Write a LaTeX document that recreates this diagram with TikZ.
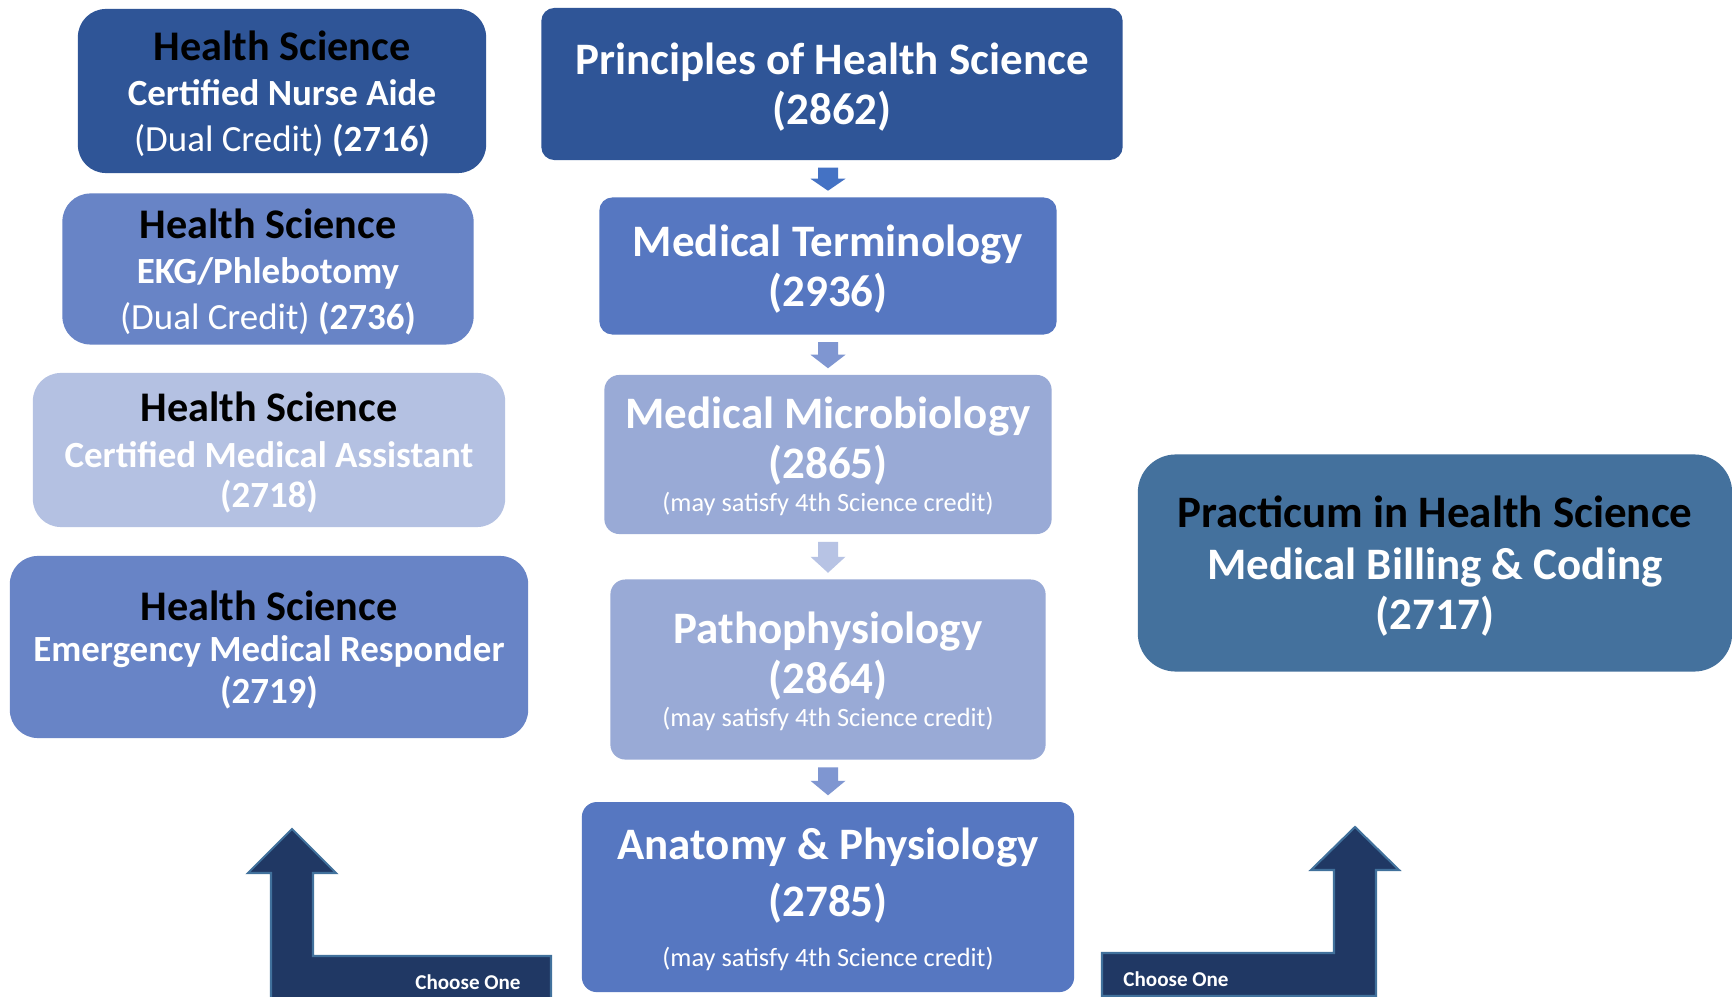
\documentclass[tikz,border=0pt]{standalone}
\usepackage{fontspec}
\setmainfont{Carlito}
\usetikzlibrary{positioning, calc}

\definecolor{hsdark}{HTML}{2F5597}
\definecolor{hsmid}{HTML}{6884C6}
\definecolor{hspale}{HTML}{B4C1E2}
\definecolor{coremid}{HTML}{5677C1}
\definecolor{coresoft}{HTML}{99AAD6}
\definecolor{practblue}{HTML}{44719D}
\definecolor{stepone}{HTML}{4472C4}
\definecolor{steptwo}{HTML}{7F96D1}
\definecolor{stepthree}{HTML}{B7C3E4}
\definecolor{choosefill}{HTML}{203864}
\definecolor{chooseline}{HTML}{41719C}

\newcommand{\hsline}{{\fontsize{12}{13}\selectfont\color{black}Health Science}}
\newcommand{\creditline}{{\mdseries\fontsize{7.5}{9}\selectfont(may satisfy 4th Science credit)}}

% block arrow between two stacked boxes
\newcommand{\stepdown}[3]{%
  \coordinate (sd-top) at ($(#1.south -| #2.north)+(0,7)$);
  \coordinate (sd-mid) at ($(#1.south -| #2.north)!0.5!(#2.north)$);
  \coordinate (sd-tip) at ($(#2.north)+(0,-6)$);
  \fill[#3] ($(sd-top)+(-10,0)$) -- ($(sd-top)+(10,0)$) -- ($(sd-mid)+(10,0)$)
    -- ($(sd-mid)+(17.5,0)$) -- (sd-tip) -- ($(sd-mid)+(-17.5,0)$)
    -- ($(sd-mid)+(-10,0)$) -- cycle;}

\begin{document}
\begin{tikzpicture}[
    x=0.01cm, y=-0.01cm,
    optbox/.style={rectangle, rounded corners=0.28cm, inner sep=0pt, align=center, text=white, text depth=0pt, font=\bfseries\fontsize{10.5}{13}\selectfont},
    corebox/.style={rectangle, rounded corners=0.13cm, inner sep=0pt, align=center, text=white, text depth=0pt, font=\bfseries\fontsize{12.8}{14.2}\selectfont},
    choosearrow/.style={fill=choosefill, draw=chooseline, line width=0.6pt},
    choosetext/.style={text=white, font=\bfseries\fontsize{6}{7}\selectfont, inner sep=0pt}
]

\useasboundingbox (0,0) rectangle (1732,997);
\fill[white] (0,0) rectangle (1732,997);
\clip (0,0) rectangle (1732,997);

% Left column: options
\node[optbox, fill=hsdark, minimum width=4.08cm, minimum height=1.64cm] (cna) at (282,91)
  {\hsline\\ Certified Nurse Aide\\ {\mdseries (Dual Credit)} (2716)};
\node[optbox, fill=hsmid, minimum width=4.11cm, minimum height=1.51cm] (ekg) at (268,269)
  {\hsline\\ EKG/Phlebotomy\\ {\mdseries (Dual Credit)} (2736)};
\node[optbox, fill=hspale, minimum width=4.72cm, minimum height=1.54cm] (cma) at (269,450)
  {\hsline\\ Certified Medical Assistant\\[-1.5pt] (2718)};
\node[optbox, fill=hsmid, minimum width=5.18cm, minimum height=1.82cm, font=\bfseries\fontsize{10.5}{11.8}\selectfont] (emr) at (269,647)
  {\hsline\\ Emergency Medical Responder\\ (2719)};

% Center column: core sequence
\node[corebox, fill=hsdark, minimum width=5.81cm, minimum height=1.52cm] (prin) at (832,84)
  {Principles of Health Science\\ (2862)};
\node[corebox, fill=coremid, minimum width=4.57cm, minimum height=1.37cm, anchor=north] (term) at ($(prin.south)+(-4,36)$)
  {Medical Terminology\\ (2936)};
\node[corebox, fill=coresoft, minimum width=4.47cm, minimum height=1.59cm, rounded corners=0.15cm, below=0.39cm of term] (micro)
  {Medical Microbiology\\ (2865)\\[-4.8pt] \creditline};
\node[corebox, fill=coresoft, minimum width=4.35cm, minimum height=1.80cm, rounded corners=0.15cm, below=0.44cm of micro] (patho)
  {Pathophysiology\\ (2864)\\[-4.8pt] \creditline};
\node[corebox, fill=coremid, minimum width=4.92cm, minimum height=1.90cm, rounded corners=0.15cm, below=0.41cm of patho, font=\bfseries\fontsize{12.8}{16.2}\selectfont] (ap)
  {Anatomy \& Physiology\\ (2785)\\[-2pt] \creditline};

% Right: practicum
\node[corebox, fill=practblue, minimum width=5.94cm, minimum height=2.17cm, rounded corners=0.38cm, font=\bfseries\fontsize{12.8}{14.8}\selectfont] (pract) at (1435,563)
  {{\color{black}Practicum in Health Science}\\ Medical Billing \& Coding\\[-0.6pt] (2717)};

\stepdown{prin}{term}{stepone}
\stepdown{term}{micro}{steptwo}
\stepdown{micro}{patho}{stepthree}
\stepdown{patho}{ap}{steptwo}

% Choose One arrows
\draw[choosearrow] (271,1005) -- (271,873) -- (248,873) -- (292,829) -- (336,873)
  -- (313,873) -- (313,956) -- (551,956) -- (551,1005) -- cycle;
\node[choosetext] (chooseL) at (468,982) {Choose One};

\draw[choosearrow] (1102,953) -- (1334,953) -- (1334,870) -- (1311,870) -- (1355,827)
  -- (1399,870) -- (1376,870) -- (1376,996) -- (1102,996) -- cycle;
\node[choosetext] (chooseR) at (1176,979) {Choose One};

\end{tikzpicture}
\end{document}
